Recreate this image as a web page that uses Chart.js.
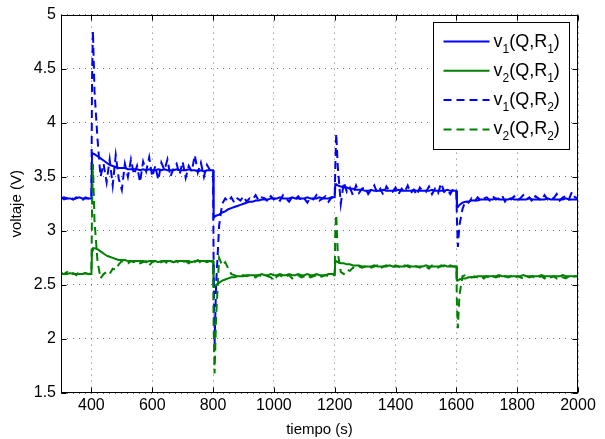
<!DOCTYPE html>
<html>
<head>
<meta charset="utf-8">
<script src="https://cdn.jsdelivr.net/npm/chart.js@4"></script>
<style>
  html, body { margin: 0; padding: 0; background: #fff; }
  #chart { display: block; }
</style>
</head>
<body>
<canvas id="chart" width="605" height="439"></canvas>
<script>
const time = [
  300, 310, 320, 330, 340, 350, 360, 370, 380, 390,
  400, 402, 405, 410, 420, 430, 440, 450, 460, 470, 480, 490,
  500, 510, 520, 530, 540, 550, 560, 570, 580, 590,
  600, 610, 620, 630, 640, 650, 660, 670, 680, 690,
  700, 710, 720, 730, 740, 750, 760, 770, 780, 790,
  800, 802, 805, 810, 820, 830, 840, 850, 860, 870, 880, 890,
  900, 910, 920, 930, 940, 950, 960, 970, 980, 990,
  1000, 1010, 1020, 1030, 1040, 1050, 1060, 1070, 1080, 1090,
  1100, 1110, 1120, 1130, 1140, 1150, 1160, 1170, 1180, 1190,
  1200, 1202, 1205, 1210, 1220, 1230, 1240, 1250, 1260, 1270, 1280, 1290,
  1300, 1310, 1320, 1330, 1340, 1350, 1360, 1370, 1380, 1390,
  1400, 1410, 1420, 1430, 1440, 1450, 1460, 1470, 1480, 1490,
  1500, 1510, 1520, 1530, 1540, 1550, 1560, 1570, 1580, 1590,
  1600, 1602, 1605, 1610, 1620, 1630, 1640, 1650, 1660, 1670, 1680, 1690,
  1700, 1710, 1720, 1730, 1740, 1750, 1760, 1770, 1780, 1790,
  1800, 1810, 1820, 1830, 1840, 1850, 1860, 1870, 1880, 1890,
  1900, 1910, 1920, 1930, 1940, 1950, 1960, 1970, 1980, 1990, 2000,
];

// v1(Q,R1) - solid blue
const v1R1 = [
  3.30, 3.31, 3.30, 3.30, 3.29, 3.30, 3.31, 3.30, 3.30, 3.30,
  3.30, 3.72, 3.72, 3.71, 3.69, 3.67, 3.65, 3.63, 3.61, 3.60, 3.59, 3.58,
  3.58, 3.58, 3.57, 3.57, 3.57, 3.57, 3.56, 3.57, 3.56, 3.57,
  3.56, 3.56, 3.57, 3.56, 3.57, 3.56, 3.56, 3.56, 3.57, 3.56,
  3.56, 3.56, 3.57, 3.56, 3.56, 3.55, 3.56, 3.55, 3.56, 3.56,
  3.56, 3.12, 3.13, 3.14, 3.15, 3.17, 3.18, 3.20, 3.21, 3.22, 3.23, 3.24,
  3.25, 3.26, 3.27, 3.27, 3.28, 3.28, 3.29, 3.29, 3.29, 3.30,
  3.30, 3.30, 3.31, 3.30, 3.30, 3.30, 3.31, 3.30, 3.30, 3.30,
  3.30, 3.31, 3.30, 3.30, 3.30, 3.31, 3.30, 3.30, 3.30, 3.31,
  3.31, 3.43, 3.43, 3.42, 3.41, 3.40, 3.40, 3.39, 3.39, 3.38, 3.38, 3.38,
  3.37, 3.37, 3.38, 3.37, 3.37, 3.37, 3.38, 3.37, 3.37, 3.37,
  3.37, 3.38, 3.37, 3.37, 3.37, 3.37, 3.38, 3.37, 3.37, 3.37,
  3.37, 3.37, 3.38, 3.37, 3.37, 3.37, 3.37, 3.38, 3.37, 3.37,
  3.37, 3.22, 3.22, 3.24, 3.26, 3.27, 3.27, 3.28, 3.28, 3.28, 3.29, 3.29,
  3.29, 3.29, 3.29, 3.30, 3.29, 3.29, 3.29, 3.29, 3.30, 3.29,
  3.29, 3.29, 3.29, 3.29, 3.30, 3.29, 3.29, 3.29, 3.29, 3.29,
  3.30, 3.29, 3.29, 3.29, 3.29, 3.29, 3.30, 3.29, 3.29, 3.29, 3.29,
];

// v2(Q,R1) - solid green
const v2R1 = [
  2.60, 2.60, 2.60, 2.61, 2.60, 2.60, 2.60, 2.60, 2.61, 2.60,
  2.60, 2.82, 2.84, 2.84, 2.83, 2.81, 2.79, 2.77, 2.76, 2.75, 2.74, 2.73,
  2.73, 2.73, 2.72, 2.72, 2.72, 2.72, 2.72, 2.72, 2.71, 2.72,
  2.72, 2.72, 2.71, 2.72, 2.72, 2.72, 2.72, 2.71, 2.72, 2.72,
  2.72, 2.72, 2.72, 2.71, 2.72, 2.72, 2.72, 2.72, 2.72, 2.72,
  2.72, 2.48, 2.48, 2.50, 2.52, 2.54, 2.55, 2.56, 2.57, 2.57, 2.58, 2.58,
  2.58, 2.59, 2.59, 2.59, 2.59, 2.59, 2.60, 2.59, 2.59, 2.60,
  2.59, 2.59, 2.60, 2.59, 2.59, 2.60, 2.59, 2.59, 2.60, 2.59,
  2.59, 2.60, 2.59, 2.59, 2.60, 2.59, 2.59, 2.59, 2.60, 2.60,
  2.60, 2.72, 2.72, 2.71, 2.70, 2.70, 2.69, 2.69, 2.68, 2.68, 2.68, 2.67,
  2.67, 2.67, 2.67, 2.68, 2.67, 2.67, 2.67, 2.67, 2.68, 2.67,
  2.67, 2.67, 2.67, 2.67, 2.68, 2.67, 2.67, 2.67, 2.67, 2.67,
  2.68, 2.67, 2.67, 2.67, 2.67, 2.67, 2.68, 2.67, 2.67, 2.67,
  2.67, 2.54, 2.54, 2.55, 2.56, 2.56, 2.57, 2.57, 2.57, 2.58, 2.58, 2.58,
  2.58, 2.58, 2.58, 2.58, 2.59, 2.58, 2.58, 2.58, 2.58, 2.58,
  2.58, 2.58, 2.59, 2.58, 2.58, 2.58, 2.58, 2.58, 2.59, 2.58,
  2.58, 2.58, 2.58, 2.58, 2.58, 2.59, 2.58, 2.58, 2.58, 2.58, 2.58,
];

// v1(Q,R2) - dashed blue
const v1R2 = [
  3.31, 3.29, 3.30, 3.32, 3.29, 3.31, 3.30, 3.28, 3.31, 3.30,
  3.30, 4.40, 4.85, 4.30, 3.85, 3.50, 3.62, 3.45, 3.66, 3.42, 3.70, 3.48,
  3.38, 3.62, 3.50, 3.66, 3.52, 3.60, 3.45, 3.64, 3.55, 3.68,
  3.50, 3.60, 3.47, 3.63, 3.56, 3.66, 3.50, 3.58, 3.62, 3.52,
  3.64, 3.49, 3.60, 3.55, 3.70, 3.54, 3.63, 3.50, 3.61, 3.56,
  3.55, 2.60, 1.95, 2.50, 3.05, 3.25, 3.30, 3.27, 3.31, 3.26, 3.30, 3.28,
  3.32, 3.27, 3.30, 3.29, 3.33, 3.28, 3.31, 3.30, 3.27, 3.32,
  3.29, 3.31, 3.28, 3.33, 3.30, 3.27, 3.31, 3.29, 3.32, 3.28,
  3.30, 3.26, 3.31, 3.29, 3.33, 3.28, 3.30, 3.32, 3.27, 3.31,
  3.30, 3.60, 3.90, 3.60, 3.25, 3.45, 3.36, 3.40, 3.33, 3.42, 3.35, 3.39,
  3.40, 3.34, 3.38, 3.42, 3.35, 3.39, 3.33, 3.41, 3.37, 3.36,
  3.40, 3.34, 3.39, 3.36, 3.42, 3.35, 3.38, 3.33, 3.40, 3.37,
  3.36, 3.41, 3.34, 3.39, 3.35, 3.44, 3.36, 3.38, 3.34, 3.39,
  3.37, 3.10, 2.85, 3.05, 3.20, 3.28, 3.26, 3.30, 3.27, 3.31, 3.28, 3.30,
  3.31, 3.28, 3.32, 3.29, 3.30, 3.33, 3.27, 3.31, 3.29, 3.32,
  3.28, 3.30, 3.33, 3.29, 3.31, 3.27, 3.32, 3.30, 3.28, 3.33,
  3.29, 3.31, 3.30, 3.34, 3.28, 3.31, 3.32, 3.29, 3.36, 3.31, 3.30,
];

// v2(Q,R2) - dashed green
const v2R2 = [
  2.61, 2.60, 2.62, 2.60, 2.61, 2.59, 2.62, 2.60, 2.61, 2.60,
  2.61, 3.20, 3.62, 3.10, 2.72, 2.56, 2.60, 2.62, 2.60, 2.65, 2.64, 2.69,
  2.72, 2.71, 2.70, 2.72, 2.71, 2.72, 2.70, 2.71, 2.72, 2.68,
  2.71, 2.72, 2.70, 2.71, 2.72, 2.70, 2.72, 2.71, 2.72, 2.70,
  2.71, 2.72, 2.70, 2.72, 2.71, 2.73, 2.70, 2.72, 2.71, 2.72,
  2.71, 2.10, 1.68, 2.20, 2.75, 2.68, 2.71, 2.65, 2.60, 2.59, 2.58, 2.59,
  2.59, 2.58, 2.59, 2.58, 2.57, 2.59, 2.58, 2.59, 2.58, 2.57,
  2.54, 2.58, 2.59, 2.57, 2.58, 2.59, 2.56, 2.58, 2.59, 2.57,
  2.58, 2.59, 2.57, 2.58, 2.59, 2.57, 2.58, 2.59, 2.58, 2.59,
  2.59, 3.00, 3.15, 2.80, 2.62, 2.60, 2.64, 2.63, 2.66, 2.65, 2.67, 2.66,
  2.67, 2.68, 2.66, 2.67, 2.68, 2.65, 2.67, 2.68, 2.67, 2.66,
  2.68, 2.67, 2.65, 2.68, 2.67, 2.66, 2.68, 2.67, 2.66, 2.68,
  2.67, 2.65, 2.68, 2.67, 2.66, 2.68, 2.67, 2.66, 2.68, 2.67,
  2.67, 2.30, 2.10, 2.40, 2.58, 2.59, 2.58, 2.57, 2.58, 2.57, 2.58, 2.56,
  2.58, 2.56, 2.58, 2.57, 2.58, 2.56, 2.58, 2.57, 2.58, 2.56,
  2.58, 2.57, 2.56, 2.58, 2.57, 2.58, 2.56, 2.57, 2.58, 2.56,
  2.58, 2.57, 2.58, 2.56, 2.58, 2.57, 2.56, 2.58, 2.57, 2.58, 2.58,
];

const seriesLabels = ["v_1(Q,R_1)", "v_2(Q,R_1)", "v_1(Q,R_2)", "v_2(Q,R_2)"];
const xTicks = [400, 600, 800, 1000, 1200, 1400, 1600, 1800, 2000];
const yTicks = [1.5, 2, 2.5, 3, 3.5, 4, 4.5, 5];

const FONT = "'Liberation Sans', Arial, Helvetica, sans-serif";
const BLUE = "#0000ff";
const GREEN = "#008000";

function toPoints(values) {
  return time.map((t, i) => ({ x: t, y: values[i] }));
}

function makeDataset(label, values, color, dashed, order) {
  return {
    label: label,
    data: toPoints(values),
    borderColor: color,
    backgroundColor: color,
    borderWidth: 2,
    borderDash: dashed ? [8, 5] : [],
    pointRadius: 0,
    tension: 0,
    fill: false,
    order: order,
  };
}

// box around the axes + inward tick marks, like matlab
const axesBox = {
  id: "axesBox",
  afterDatasetsDraw(chart) {
    const { ctx, chartArea } = chart;
    const x = chart.scales.x;
    const y = chart.scales.y;
    const l = Math.round(chartArea.left) + 0.5;
    const r = Math.round(chartArea.right) - 0.5;
    const t = Math.round(chartArea.top) + 0.5;
    const b = Math.round(chartArea.bottom) - 0.5;
    ctx.save();
    ctx.setLineDash([]);
    ctx.strokeStyle = "#000";
    ctx.lineWidth = 1;
    ctx.strokeRect(l, t, r - l, b - t);
    ctx.beginPath();
    xTicks.forEach((v) => {
      const px = Math.round(x.getPixelForValue(v)) + 0.5;
      ctx.moveTo(px, b);
      ctx.lineTo(px, b - 5);
      ctx.moveTo(px, t);
      ctx.lineTo(px, t + 5);
    });
    yTicks.forEach((v) => {
      const py = Math.round(y.getPixelForValue(v)) + 0.5;
      ctx.moveTo(l, py);
      ctx.lineTo(l + 5, py);
      ctx.moveTo(r, py);
      ctx.lineTo(r - 5, py);
    });
    ctx.stroke();
    ctx.restore();
  },
};

function drawLabel(ctx, text, x, y) {
  // "_" marks a one-character subscript
  let cx = x;
  for (let i = 0; i < text.length; i++) {
    if (text[i] === "_") {
      i++;
      ctx.font = "12px " + FONT;
      ctx.fillText(text[i], cx, y + 6);
      cx += ctx.measureText(text[i]).width;
    } else {
      ctx.font = "18px " + FONT;
      ctx.fillText(text[i], cx, y);
      cx += ctx.measureText(text[i]).width;
    }
  }
}

const boxLegend = {
  id: "boxLegend",
  afterDraw(chart) {
    const { ctx, chartArea } = chart;
    const w = 136;
    const h = 127;
    const bx = Math.round(chartArea.right) - 9 - w + 0.5;
    const by = Math.round(chartArea.top) + 7 + 0.5;
    ctx.save();
    ctx.fillStyle = "#fff";
    ctx.fillRect(bx, by, w, h);
    ctx.strokeStyle = "#000";
    ctx.lineWidth = 1;
    ctx.setLineDash([]);
    ctx.strokeRect(bx, by, w, h);
    chart.data.datasets.forEach((ds, i) => {
      const ly = by + 19 + i * 29.3;
      ctx.beginPath();
      ctx.strokeStyle = ds.borderColor;
      ctx.lineWidth = ds.borderWidth;
      ctx.setLineDash(ds.borderDash);
      ctx.moveTo(bx + 10, ly);
      ctx.lineTo(bx + 56, ly);
      ctx.stroke();
      ctx.setLineDash([]);
      ctx.fillStyle = "#000";
      ctx.textBaseline = "alphabetic";
      ctx.textAlign = "left";
      drawLabel(ctx, seriesLabels[i], bx + 60, ly + 5);
    });
    ctx.restore();
  },
};

function createChart() {
  const ctx = document.getElementById("chart").getContext("2d");
  new Chart(ctx, {
    type: "line",
    data: {
      datasets: [
        makeDataset(seriesLabels[0], v1R1, BLUE, false, 4),
        makeDataset(seriesLabels[1], v2R1, GREEN, false, 3),
        makeDataset(seriesLabels[2], v1R2, BLUE, true, 2),
        makeDataset(seriesLabels[3], v2R2, GREEN, true, 1),
      ],
    },
    options: {
      responsive: false,
      animation: false,
      devicePixelRatio: 1,
      layout: { padding: { top: 13, right: 27, left: 0, bottom: 0 } },
      plugins: {
        legend: { display: false },
        tooltip: { enabled: false },
      },
      scales: {
        x: {
          type: "linear",
          min: 300,
          max: 2000,
          afterBuildTicks: (s) => {
            s.ticks = xTicks.map((v) => ({ value: v }));
          },
          afterFit: (s) => {
            s.height = 46;
          },
          ticks: {
            color: "#000",
            font: { family: FONT, size: 16 },
            padding: 3,
            maxRotation: 0,
            autoSkip: false,
            callback: (v) => String(v),
          },
          grid: { color: "rgba(0,0,0,0.55)", lineWidth: 1, drawTicks: false },
          border: { display: false, dash: [1, 5] },
          title: {
            display: true,
            text: "tiempo (s)",
            color: "#000",
            font: { family: FONT, size: 15 },
            padding: { top: 0, bottom: 0 },
          },
        },
        y: {
          type: "linear",
          min: 1.5,
          max: 5,
          afterBuildTicks: (s) => {
            s.ticks = yTicks.map((v) => ({ value: v }));
          },
          afterFit: (s) => {
            s.width = 61;
          },
          ticks: {
            color: "#000",
            font: { family: FONT, size: 16 },
            padding: 5,
            callback: (v) => String(v),
          },
          grid: { color: "rgba(0,0,0,0.55)", lineWidth: 1, drawTicks: false },
          border: { display: false, dash: [1, 5] },
          title: {
            display: true,
            text: "voltaje (V)",
            color: "#000",
            font: { family: FONT, size: 15 },
            padding: { top: 8, bottom: 0 },
          },
        },
      },
    },
    plugins: [axesBox, boxLegend],
  });
}

createChart();
</script>
</body>
</html>
